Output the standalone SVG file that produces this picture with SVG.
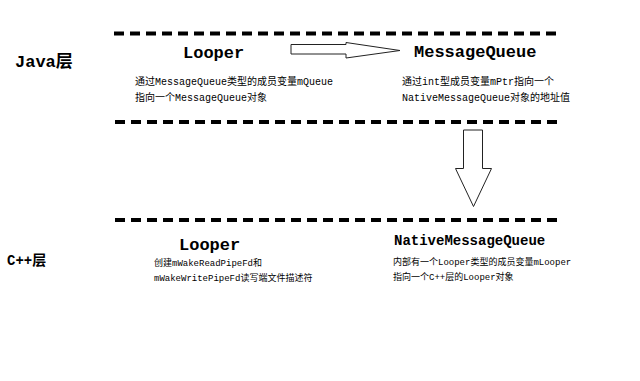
<svg xmlns="http://www.w3.org/2000/svg" width="640" height="381" viewBox="0 0 640 381">
<style>
.sep{stroke:#000;stroke-width:4;stroke-dasharray:10 6;fill:none}
.t{font-family:"Liberation Mono","Noto Sans CJK SC",monospace;fill:#000}
.b{font-weight:bold}
.arrow{fill:#fff;stroke:#222;stroke-width:1}
</style>
<rect width="640" height="381" fill="#fff"/>
<g id="separators">
<line class="sep" x1="114" y1="33.5" x2="560" y2="33.5"/>
<line class="sep" x1="115" y1="122" x2="563" y2="122"/>
<line class="sep" x1="115" y1="220" x2="562" y2="220"/>
</g>
<g id="layer-java"><text class="t b" x="15" y="67" font-size="17">Java层</text></g>
<g id="layer-cpp"><text class="t b" x="7" y="265" font-size="14">C++层</text></g>
<g id="java-looper">
<text class="t b" x="183" y="58" font-size="17">Looper</text>
<text class="t" x="135" y="85" font-size="10">通过MessageQueue类型的成员变量mQueue</text>
<text class="t" x="135" y="101" font-size="10">指向一个MessageQueue对象</text>
</g>
<g id="java-messagequeue">
<text class="t b" x="414" y="57" font-size="17">MessageQueue</text>
<text class="t" x="402" y="85" font-size="10">通过int型成员变量mPtr指向一个</text>
<text class="t" x="402" y="101" font-size="10">NativeMessageQueue对象的地址值</text>
</g>
<g id="cpp-looper">
<text class="t b" x="179" y="250" font-size="17">Looper</text>
<text class="t" x="154" y="266" font-size="9">创建mWakeReadPipeFd和</text>
<text class="t" x="154" y="281" font-size="9">mWakeWritePipeFd读写端文件描述符</text>
</g>
<g id="cpp-nativemessagequeue">
<text class="t b" x="394" y="245" font-size="14">NativeMessageQueue</text>
<text class="t" x="393" y="265" font-size="9">内部有一个Looper类型的成员变量mLooper</text>
<text class="t" x="393" y="280" font-size="9">指向一个C++层的Looper对象</text>
</g>
<g id="connectors">
<path class="arrow" d="M291,44.5 L346,44.5 L346,42.5 L400,50.5 L346,58 L346,54 L291,54 Z"/>
<path class="arrow" d="M463.5,130 L482.5,130 L482.5,168.5 L491.5,168.5 L473.5,206.5 L455.5,168.5 L463.5,168.5 Z"/>
</g>
</svg>
